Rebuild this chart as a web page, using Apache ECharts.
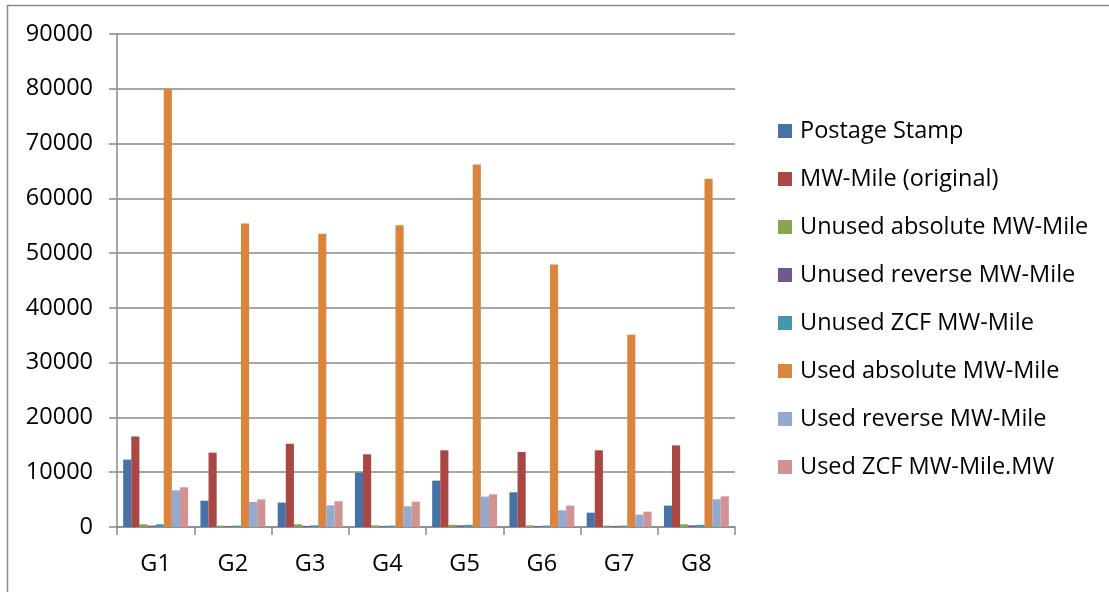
<!DOCTYPE html>
<html>
<head>
<meta charset="utf-8">
<script src="https://cdn.jsdelivr.net/npm/echarts@6/dist/echarts.min.js"></script>
<style>
  html, body { margin: 0; padding: 0; background: #fff; }
  #chart { width: 1109px; height: 592px; }
</style>
</head>
<body>
<div id="chart"></div>
<script>
// Generator groups on the x axis
const categories = ['G1', 'G2', 'G3', 'G4', 'G5', 'G6', 'G7', 'G8'];

// Cost allocated to each generator by method
const postageStamp      = [12300, 4800, 4450, 9930, 8470, 6330, 2620, 3900];
const mwMileOriginal    = [16500, 13580, 15200, 13270, 14000, 13690, 14000, 14900];
const unusedAbsolute    = [500, 250, 500, 300, 400, 300, 250, 500];
const unusedReverse     = [250, 150, 200, 150, 300, 150, 150, 300];
const unusedZcf         = [500, 250, 300, 250, 400, 250, 250, 400];
const usedAbsolute      = [80000, 55400, 53550, 55070, 66170, 47940, 35090, 63560];
const usedReverse       = [6700, 4560, 3960, 3780, 5550, 3040, 2260, 5050];
const usedZcf           = [7250, 5050, 4700, 4630, 5970, 3900, 2800, 5600];

const seriesNames = [
  'Postage Stamp',
  'MW-Mile (original)',
  'Unused absolute MW-Mile',
  'Unused reverse MW-Mile',
  'Unused ZCF MW-Mile',
  'Used absolute MW-Mile',
  'Used reverse MW-Mile',
  'Used ZCF MW-Mile.MW'
];
const seriesValues = [postageStamp, mwMileOriginal, unusedAbsolute, unusedReverse,
                      unusedZcf, usedAbsolute, usedReverse, usedZcf];
const colors = ['#4572A7', '#AA4643', '#89A54E', '#71588F',
                '#4198AF', '#DB843D', '#93A9CF', '#D19392'];

// Y axis ticks
const yMin = 0, yMax = 90000, yStep = 10000;

const FONT = 'Open Sans';
const FONT_SIZE = 23.5;
const gridColor = '#8a8a8a';

const chart = echarts.init(document.getElementById('chart'), null, { renderer: 'canvas' });

chart.setOption({
  animation: false,
  color: colors,
  textStyle: { fontFamily: FONT },
  grid: { left: 117, right: 374, top: 34, bottom: 65, containLabel: false },
  legend: {
    orient: 'vertical',
    left: 778,
    top: 119,
    padding: 0,
    itemWidth: 14,
    itemHeight: 14,
    itemGap: 24,
    icon: 'rect',
    textStyle: { fontFamily: FONT, fontSize: FONT_SIZE, color: '#000', lineHeight: 24, padding: [0, 0, 0, 3] },
    data: seriesNames
  },
  xAxis: {
    type: 'category',
    data: categories,
    axisLine: { lineStyle: { color: gridColor, width: 1.5 } },
    axisTick: { show: true, length: 8, lineStyle: { color: gridColor, width: 1.5 } },
    axisLabel: { fontFamily: FONT, fontSize: FONT_SIZE, color: '#000', margin: 25 }
  },
  yAxis: {
    type: 'value',
    min: yMin,
    max: yMax,
    interval: yStep,
    axisLine: { show: true, lineStyle: { color: gridColor, width: 1.5 } },
    axisTick: { show: true, length: 8, lineStyle: { color: gridColor, width: 1.5 } },
    axisLabel: { fontFamily: FONT, fontSize: FONT_SIZE, color: '#000', margin: 24,
                 formatter: v => String(v) },
    splitLine: { show: true, lineStyle: { color: gridColor, width: 1.5 } }
  },
  series: seriesNames.map((name, i) => ({
    name: name,
    type: 'bar',
    data: seriesValues[i],
    barGap: '0%',
    barCategoryGap: '16%',
    itemStyle: { color: colors[i] }
  })),
  graphic: [
    // frame around the chart: left edge and top edge
    { type: 'line', shape: { x1: 7.5, y1: 5, x2: 7.5, y2: 592 }, style: { stroke: '#8a8a8a', lineWidth: 1.5 } },
    { type: 'line', shape: { x1: 7, y1: 5.5, x2: 1109, y2: 5.5 }, style: { stroke: '#8a8a8a', lineWidth: 1.5 } }
  ]
});
</script>
</body>
</html>
